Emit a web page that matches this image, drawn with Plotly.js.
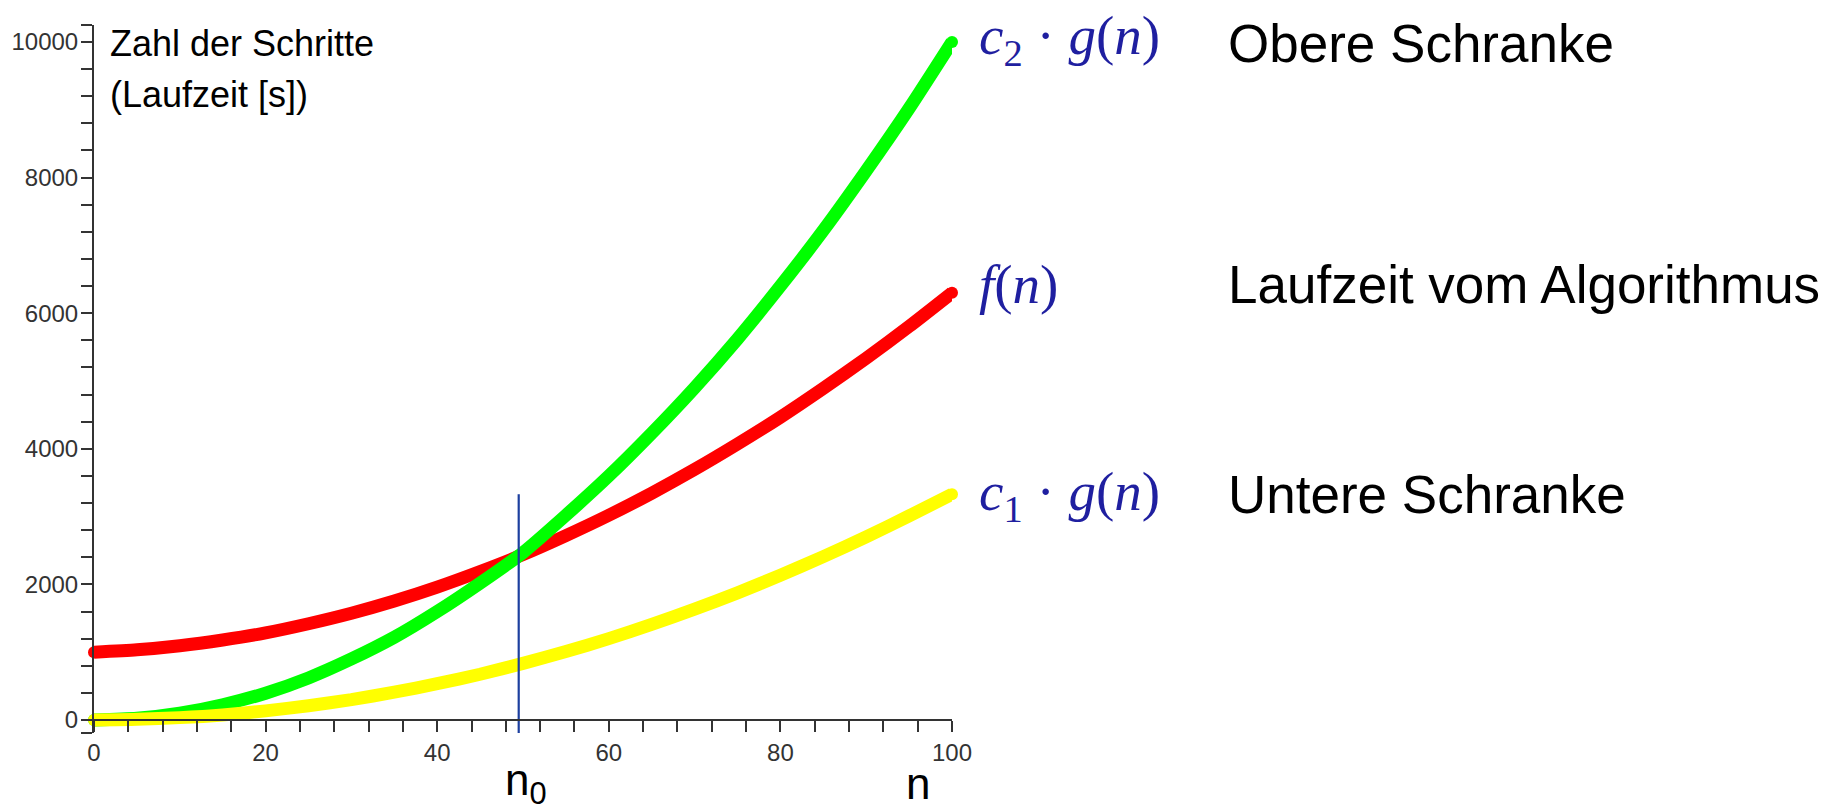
<!DOCTYPE html>
<html>
<head>
<meta charset="utf-8">
<script src="https://cdn.plot.ly/plotly-3.0.1.min.js"></script>
<style>
  html, body { margin: 0; padding: 0; background: #ffffff; }
  #chart { width: 1833px; height: 811px; }
</style>
</head>
<body>
<div id="chart"></div>
<script>
// ---------- data ----------
const n = [0, 5, 10, 15, 20, 25, 30, 35, 40, 45, 50, 55, 60, 65, 70, 75, 80, 85, 90, 95, 100];
// upper bound c2*g(n) (green)
const upperBound = [0, 25, 100, 225, 395, 620, 900, 1220, 1600, 2020, 2470, 3020, 3600, 4230, 4900, 5620, 6400, 7220, 8100, 9020, 10000];
// running time f(n) (red)
const runtime = [1000, 1035, 1095, 1180, 1285, 1420, 1575, 1755, 1960, 2190, 2440, 2720, 3020, 3345, 3695, 4070, 4465, 4890, 5335, 5805, 6300];
// lower bound c1*g(n) (yellow)
const lowerBound = [0, 10, 35, 75, 135, 210, 300, 410, 535, 675, 835, 1010, 1200, 1410, 1635, 1875, 2135, 2410, 2700, 3010, 3330];
// vertical marker at n0
const n0X = [49.5, 49.5];
const n0Y = [-220, 3330];

const yTickVals = [0, 2000, 4000, 6000, 8000, 10000];
const yTickText = ['0', '2000', '4000', '6000', '8000', '10000'];
const yAxisEnds = [-190, 10250];
const xTickVals = [0, 20, 40, 60, 80, 100];
const xTickText = ['0', '20', '40', '60', '80', '100'];

const mathLabels = [
  '<i>c</i><sub>2</sub> · <i>g</i>(<i>n</i>)',
  '<i>f</i>(<i>n</i>)',
  '<i>c</i><sub>1</sub> · <i>g</i>(<i>n</i>)'
];
const descLabels = ['Obere Schranke', 'Laufzeit vom Algorithmus', 'Untere Schranke'];
const yTitleLines = ['Zahl der Schritte', '(Laufzeit [s])'];

// ---------- layout geometry (pixels) ----------
const W = 1833, H = 811;
const X0PX = 94, X100PX = 952;      // x = 0 and x = 100
const Y0PX = 720, Y10KPX = 42;      // y = 0 and y = 10000
const pyPerUnit = (Y0PX - Y10KPX) / 10000;
const yBottomPx = Y0PX + (0 - yAxisEnds[0]) * pyPerUnit;
const yTopPx = Y0PX - yAxisEnds[1] * pyPerUnit;
const px = x => x / W;
const py = y => (H - y) / H;

const LW = 13;
function endSizes(arr) { return arr.map((v, i) => (i === 0 || i === arr.length - 1) ? LW - 1 : 0); }

function curve(yv, color) {
  return {
    x: n, y: yv, type: 'scatter', mode: 'lines+markers',
    line: { color: color, width: LW, shape: 'spline', smoothing: 0.6 },
    marker: { color: color, size: endSizes(yv), opacity: 1, line: { width: 0 } },
    cliponaxis: false, hoverinfo: 'skip'
  };
}

const traces = [
  curve(runtime, '#ff0000'),
  curve(upperBound, '#00ff00'),
  curve(lowerBound, '#ffff00'),
  { x: n0X, y: n0Y, type: 'scatter', mode: 'lines',
    line: { color: '#1c3f9f', width: 2.2 }, hoverinfo: 'skip' }
];

const tickFont = { family: 'Liberation Sans, Arial, sans-serif', size: 24, color: '#333333' };
const mathFont = { family: 'Liberation Serif, DejaVu Serif, serif', size: 55, color: '#1f1fa0' };
const descFont = { family: 'Liberation Sans, Arial, sans-serif', size: 53, color: '#000000' };
const axTitleFont = { family: 'Liberation Sans, Arial, sans-serif', size: 36, color: '#000000' };

const mathY = [40, 284, 495];
const descY = [44, 284, 494];

const annotations = [];
mathLabels.forEach((t, i) => annotations.push({
  xref: 'paper', yref: 'paper', x: px(977), y: py(mathY[i]), xanchor: 'left', yanchor: 'middle',
  text: t, showarrow: false, font: mathFont
}));
descLabels.forEach((t, i) => annotations.push({
  xref: 'paper', yref: 'paper', x: px(1226), y: py(descY[i]), xanchor: 'left', yanchor: 'middle',
  text: t, showarrow: false, font: descFont
}));
annotations.push({ xref: 'paper', yref: 'paper', x: px(108), y: py(44), xanchor: 'left', yanchor: 'middle',
  text: yTitleLines[0], showarrow: false, font: axTitleFont });
annotations.push({ xref: 'paper', yref: 'paper', x: px(108), y: py(94), xanchor: 'left', yanchor: 'middle',
  text: yTitleLines[1], showarrow: false, font: axTitleFont });
annotations.push({ xref: 'paper', yref: 'paper', x: px(503), y: py(783), xanchor: 'left', yanchor: 'middle',
  text: 'n<sub>0</sub>', showarrow: false, font: { family: 'Liberation Sans, Arial, sans-serif', size: 44, color: '#000' } });
annotations.push({ xref: 'paper', yref: 'paper', x: px(904), y: py(783), xanchor: 'left', yanchor: 'middle',
  text: 'n', showarrow: false, font: { family: 'Liberation Sans, Arial, sans-serif', size: 44, color: '#000' } });

const layout = {
  width: W, height: H,
  margin: { l: 0, r: 0, t: 0, b: 0, pad: 0 },
  paper_bgcolor: '#ffffff', plot_bgcolor: 'rgba(0,0,0,0)',
  showlegend: false, hovermode: false,
  xaxis: {
    domain: [px(X0PX), px(X100PX)], range: [0, 100],
    anchor: 'free', position: py(Y0PX),
    tickmode: 'array', tickvals: xTickVals, ticktext: xTickText,
    ticks: 'outside', ticklen: 11, tickwidth: 2, tickcolor: '#333333',
    minor: { tickmode: 'linear', tick0: 0, dtick: 4, ticks: 'outside', ticklen: 11, tickwidth: 2, tickcolor: '#333333', showgrid: false },
    showline: true, linewidth: 2, linecolor: '#333333',
    showgrid: false, zeroline: false, tickfont: tickFont, fixedrange: true
  },
  yaxis: {
    domain: [py(yBottomPx), py(yTopPx)], range: yAxisEnds,
    anchor: 'x',
    tickmode: 'array', tickvals: yAxisEnds.concat(yTickVals), ticktext: [' ', ' '].concat(yTickText),
    ticks: 'outside', ticklen: 11, tickwidth: 2, tickcolor: '#333333',
    ticklabelstandoff: -2,
    minor: { tickmode: 'linear', tick0: 0, dtick: 400, ticks: 'outside', ticklen: 11, tickwidth: 2, tickcolor: '#333333', showgrid: false },
    showline: true, linewidth: 2, linecolor: '#333333',
    showgrid: false, zeroline: false, tickfont: tickFont, fixedrange: true
  },
  annotations: annotations
};

Plotly.newPlot('chart', traces, layout, { displayModeBar: false, staticPlot: true });
</script>
</body>
</html>
